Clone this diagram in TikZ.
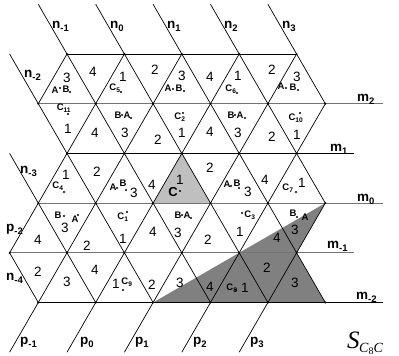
\documentclass[tikz,border=0pt]{standalone}
\usepackage{fontspec}
\setmainfont{Liberation Sans}
\newfontfamily\tmsfont{Liberation Serif}
\newcommand\LineLab[2]{\textbf{#1}\raisebox{-3pt}{\fontsize{9.5}{9.5}\selectfont\textbf{#2}}}
\begin{document}
\begin{tikzpicture}[x=1pt,y=-1pt,
  blk/.style={line width=0.7pt,black},
  gry/.style={line width=0.8pt,black!55},
  num/.style={font=\fontsize{13.5}{13.5}\selectfont,inner sep=0pt},
  ptl/.style={font=\fontsize{9.5}{9.5}\selectfont\bfseries,inner sep=0pt},
  lab/.style={anchor=base west,inner sep=0pt,font=\fontsize{13.5}{13.5}\selectfont},
  vdot/.style={black},
]
\useasboundingbox (0,0) rectangle (399,356);
\fill[white] (0,0) rectangle (399,356);
% lattice vertices (u,r)
\foreach \u in {0,...,13}{
  \foreach \r in {0,...,7}{
    \coordinate (v\u-\r) at ({9.6+28.7*\u},{4.3+49.7*\r});
  }
}
% shaded regions
\fill[black!25] (v6-3) -- (v5-4) -- (v7-4) -- cycle;
\fill[black!50] (v5-6) -- (v11-4) -- (v10-5) -- (v11-6) -- cycle;
% horizontal lines
\draw[blk] (v2-1) -- (v10-1);
\draw[gry] (v1-2) -- (v13-2);
\draw[blk] (v2-3) -- (v12-3);
\draw[gry] (v1-4) -- (v13-4);
\draw[gry] (v0-5) -- (v12-5);
\draw[blk] (v1-6) -- (v13-6);
% n lines (down-right)
\draw[blk] (v9-0) -- (v11-2);
\draw[blk] (v7-0) -- (v11-4);
\draw[blk] (v5-0) -- (v11-6);
\draw[blk] (v3-0) -- (v9-6);
\draw[blk] (v1-0) -- (v7-6);
\draw[blk] (v0-1) -- (v5-6);
\draw[blk] (v0-3) -- (v3-6);
\draw[blk] (v0-5) -- (v1-6);
% p lines (up-right)
\draw[blk] (v1-2) -- (v2-1);
\draw[blk] (v0-5) -- (v4-1);
\draw[blk] (v0-7) -- (v6-1);
\draw[blk] (v2-7) -- (v8-1);
\draw[blk] (v4-7) -- (v10-1);
\draw[blk] (v6-7) -- (v11-2);
\draw[blk] (v8-7) -- (v11-4);
% vertex dots
\foreach \u in {2,4,6,8,10} \fill[vdot] (v\u-1) circle (1.1);
\foreach \u in {1,3,5,7,9,11} \fill[vdot] (v\u-2) circle (1.1);
\foreach \u in {2,4,6,8,10} \fill[vdot] (v\u-3) circle (1.1);
\foreach \u in {1,3,5,7,9,11} \fill[vdot] (v\u-4) circle (1.1);
\foreach \u in {0,2,4,6,8,10} \fill[vdot] (v\u-5) circle (1.1);
\foreach \u in {1,3,5,7,9,11} \fill[vdot] (v\u-6) circle (1.1);
% triangle numbers
\foreach \x/\y/\t [count=\k] in {67/78/3, 93/72/4, 123/77/1, 155/70/2, 182/76/3, 210/77/4, 238/76/1, 272/70/2, 297/77/3,
 68/129/1, 95/133/4, 125/133/3, 158/140/2, 182/133/1, 210/132/4, 238/133/3, 272/137/2, 297/135/1,
 66/175/1, 97/172/2, 134/193/3, 152/185/4, 180/180/1, 210/168/2, 248/192/3, 265/180/4, 302/183/1,
 38/240/4, 65/228/3, 87/246/2, 123/239/1, 153/232/4, 178/233/3, 208/240/2, 240/232/1, 277/238/4, 295/230/3,
 38/272/2, 67/282/3, 95/270/4, 116/284/1, 152/285/2, 180/283/3, 210/287/4, 245/288/1, 267/268/2, 295/283/3}
  \node[num] (num\k) at (\x,\y) {\t};
% point letters
\foreach \x/\y/\t [count=\k] in {55/90/A, 66/89/B, 168/88/A, 179/88/B, 281/86/A, 293/87/B,
 115/88/C\textsubscript{5}, 231/89/C\textsubscript{6},
 64/108/C\textsubscript{11}, 118/115/B, 127/115/A, 180/117/C\textsubscript{2}, 231/115/B, 240/115/A, 296/118/C\textsubscript{10},
 58/186/C\textsubscript{4}, 113/187/A, 123/183/B, 227/184/A, 237/183/B, 288/188/C\textsubscript{7},
 58/215/B, 75/219/A, 123/217/C\textsubscript{1}, 178/215/B, 187/215/A, 250/215/C\textsubscript{3}, 293/213/B, 305/217/A,
 127/282/C\textsubscript{9}, 232/288/C\textsubscript{8}}
  \node[ptl] (pt\k) at (\x,\y) {\t};
\node[inner sep=0pt,font=\fontsize{13}{13}\selectfont\bfseries] (bigC) at (173,192) {C};
% point dots
\foreach \x/\y in {60/88, 70/92, 121/92, 173/89, 184/91, 237/93, 286/88, 298/90,
 68/114, 122/115, 131/118, 183/113, 235/115, 245/118, 300/113,
 64/192, 117/188, 126/190, 180/191, 231/186, 239/188, 296/192,
 64/216, 78/215, 127/212, 182/215, 191/218, 242/213, 297/217,
 123/290, 236/290}
  \fill (\x,\y) circle (1.1);
% line labels
\node[lab] (ln-1) at (52,28) {\LineLab{n}{-1}};
\node[lab] (ln0) at (110,28) {\LineLab{n}{0}};
\node[lab] (ln1) at (167,28) {\LineLab{n}{1}};
\node[lab] (ln2) at (224,28) {\LineLab{n}{2}};
\node[lab] (ln3) at (282,28) {\LineLab{n}{3}};
\node[lab] (ln-2) at (24,77) {\LineLab{n}{-2}};
\node[lab] (ln-3) at (20,173) {\LineLab{n}{-3}};
\node[lab] (ln-4) at (6,280) {\LineLab{n}{-4}};
\node[lab] (lm2) at (357,101) {\LineLab{m}{2}};
\node[lab] (lm1) at (330,151) {\LineLab{m}{1}};
\node[lab] (lm0) at (357,201) {\LineLab{m}{0}};
\node[lab] (lm-1) at (327,248) {\LineLab{m}{-1}};
\node[lab] (lm-2) at (356,299) {\LineLab{m}{-2}};
\node[lab] (lp-2) at (6,231) {\LineLab{p}{-2}};
\node[lab] (lp-1) at (20,344) {\LineLab{p}{-1}};
\node[lab] (lp0) at (80,344) {\LineLab{p}{0}};
\node[lab] (lp1) at (135,344) {\LineLab{p}{1}};
\node[lab] (lp2) at (193,344) {\LineLab{p}{2}};
\node[lab] (lp3) at (250,344) {\LineLab{p}{3}};
% title
\node[anchor=base west,inner sep=0pt] (slab) at (347,348)
  {\tmsfont\itshape\fontsize{25}{25}\selectfont S\kern-0.5pt\raisebox{-4pt}{\fontsize{14}{14}\selectfont C\raisebox{-2pt}{\upshape\fontsize{10}{10}\selectfont 8}C}};
\end{tikzpicture}
\end{document}
